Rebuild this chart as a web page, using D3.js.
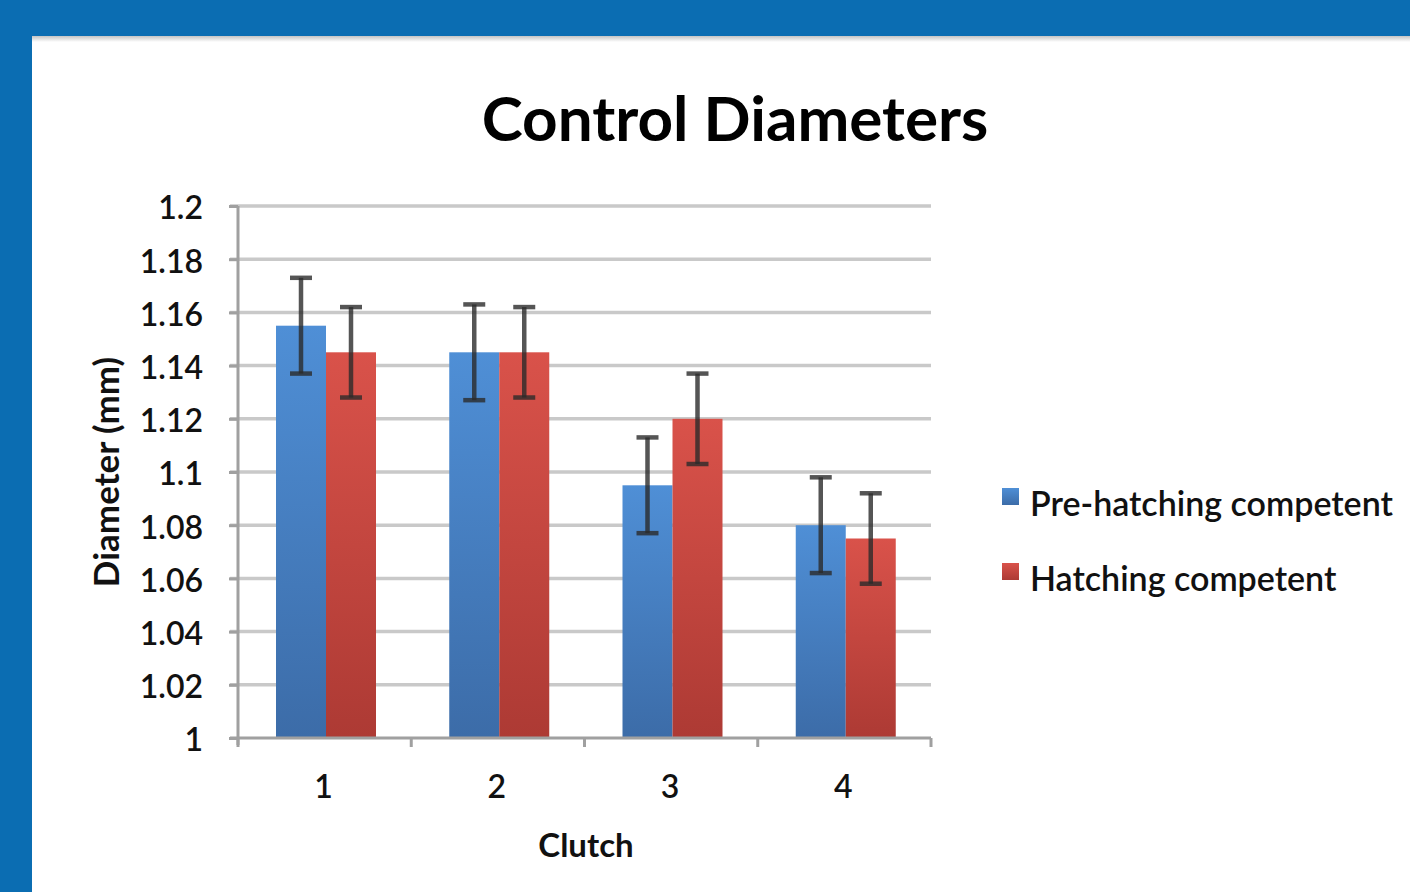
<!DOCTYPE html>
<html>
<head>
<meta charset="utf-8">
<script src="https://cdn.jsdelivr.net/npm/d3@7"></script>
<style>
  body { margin: 0; background: #0b6db2; }
  svg { display: block; }
</style>
</head>
<body>
<div id="chart"></div>
<script>
// values
var clutches = ["1", "2", "3", "4"];
var seriesNames = ["Pre-hatching competent", "Hatching competent"];
var preHatching = [1.155, 1.145, 1.095, 1.080];
var preHatchingErr = [0.018, 0.018, 0.018, 0.018];
var hatching = [1.145, 1.145, 1.120, 1.075];
var hatchingErr = [0.017, 0.017, 0.017, 0.017];
var yTicks = [1, 1.02, 1.04, 1.06, 1.08, 1.1, 1.12, 1.14, 1.16, 1.18, 1.2];

var W = 1410, H = 892;
var font = "Lato, 'Open Sans', sans-serif";

var svg = d3.select("#chart").append("svg")
  .attr("width", W).attr("height", H);

var defs = svg.append("defs");
function grad(id, top, bottom) {
  var g = defs.append("linearGradient").attr("id", id)
    .attr("x1", 0).attr("y1", 0).attr("x2", 0).attr("y2", 1);
  g.append("stop").attr("offset", "0%").attr("stop-color", top);
  g.append("stop").attr("offset", "100%").attr("stop-color", bottom);
}
grad("gBlue", "#4f8fd6", "#3c6ca8");
grad("gRed", "#d9524a", "#ad3a34");
var shadow = defs.append("linearGradient").attr("id", "gShadow")
  .attr("x1", 0).attr("y1", 0).attr("x2", 0).attr("y2", 1);
shadow.append("stop").attr("offset", "0%").attr("stop-color", "#c4c4c4");
shadow.append("stop").attr("offset", "100%").attr("stop-color", "#ffffff");

// white panel
svg.append("rect").attr("x", 32).attr("y", 36).attr("width", W - 32).attr("height", H - 36)
  .attr("fill", "#ffffff");
svg.append("rect").attr("x", 32).attr("y", 36).attr("width", W - 32).attr("height", 6)
  .attr("fill", "url(#gShadow)");

// scales
var x = d3.scaleBand().domain(clutches).range([238, 931]);
var x1 = d3.scaleBand().domain(seriesNames).range([38, 138]);
var y = d3.scaleLinear().domain([1, 1.2]).range([738, 206]);

// gridlines
svg.append("g").selectAll("line").data(yTicks.slice(1)).enter().append("line")
  .attr("x1", 230).attr("x2", 931)
  .attr("y1", function(d) { return y(d); }).attr("y2", function(d) { return y(d); })
  .attr("stroke", "#c9c9c9").attr("stroke-width", 3.5);

// y axis
var yAxis = svg.append("g").attr("transform", "translate(238,0)")
  .call(d3.axisLeft(y).tickValues(yTicks).tickSize(9).tickPadding(26)
    .tickFormat(function(d) { return d3.format("")(+d.toFixed(2)); }));
yAxis.select(".domain").attr("stroke", "#a0a0a0").attr("stroke-width", 3)
  .attr("d", "M0,206V745");
yAxis.selectAll(".tick line").attr("stroke", "#a0a0a0").attr("stroke-width", 3);
yAxis.selectAll(".tick text").attr("font-family", font).attr("font-size", 32)
  .attr("font-weight", 600).attr("fill", "#111").attr("dy", "0.4em");

// bars
var groups = svg.append("g").selectAll("g").data(clutches).enter().append("g")
  .attr("transform", function(d) { return "translate(" + x(d) + ",0)"; });

var rows = clutches.map(function(c, i) {
  return [
    { s: seriesNames[0], v: preHatching[i], e: preHatchingErr[i], fill: "url(#gBlue)" },
    { s: seriesNames[1], v: hatching[i], e: hatchingErr[i], fill: "url(#gRed)" }
  ];
});

groups.selectAll("rect").data(function(d, i) { return rows[i]; }).enter().append("rect")
  .attr("x", function(d) { return x1(d.s); })
  .attr("width", x1.bandwidth())
  .attr("y", function(d) { return y(d.v); })
  .attr("height", function(d) { return y(1) - y(d.v); })
  .attr("fill", function(d) { return d.fill; });

// error bars
var eb = groups.selectAll("g.err").data(function(d, i) { return rows[i]; }).enter()
  .append("g").attr("class", "err")
  .attr("stroke", "#2b2b2b").attr("stroke-opacity", 0.8).attr("stroke-width", 4.5);
eb.append("line")
  .attr("x1", function(d) { return x1(d.s) + x1.bandwidth() / 2; })
  .attr("x2", function(d) { return x1(d.s) + x1.bandwidth() / 2; })
  .attr("y1", function(d) { return y(d.v + d.e); })
  .attr("y2", function(d) { return y(d.v - d.e); });
[1, -1].forEach(function(sgn) {
  eb.append("line")
    .attr("x1", function(d) { return x1(d.s) + x1.bandwidth() / 2 - 11; })
    .attr("x2", function(d) { return x1(d.s) + x1.bandwidth() / 2 + 11; })
    .attr("y1", function(d) { return y(d.v + sgn * d.e); })
    .attr("y2", function(d) { return y(d.v + sgn * d.e); });
});

// x axis
svg.append("line").attr("x1", 230).attr("x2", 931).attr("y1", 738).attr("y2", 738)
  .attr("stroke", "#a0a0a0").attr("stroke-width", 3);
var bounds = clutches.map(function(c) { return x(c); }).concat([x.range()[1]]);
svg.append("g").selectAll("line").data(bounds).enter().append("line")
  .attr("x1", function(d) { return d; }).attr("x2", function(d) { return d; })
  .attr("y1", 738).attr("y2", 747)
  .attr("stroke", "#a0a0a0").attr("stroke-width", 3);
svg.append("g").selectAll("text").data(clutches).enter().append("text")
  .attr("x", function(d) { return x(d) + x.bandwidth() / 2 - 1; })
  .attr("y", 798)
  .attr("text-anchor", "middle")
  .attr("font-family", font).attr("font-size", 32).attr("font-weight", 600).attr("fill", "#111")
  .text(function(d) { return d; });

// titles
svg.append("text").attr("x", 735).attr("y", 141).attr("text-anchor", "middle")
  .attr("font-family", font).attr("font-size", 62).attr("font-weight", 700).attr("fill", "#000")
  .text("Control Diameters");
svg.append("text").attr("x", 586).attr("y", 857).attr("text-anchor", "middle")
  .attr("font-family", font).attr("font-size", 33).attr("font-weight", 700).attr("fill", "#111")
  .text("Clutch");
svg.append("text").attr("transform", "translate(119,472) rotate(-90)").attr("text-anchor", "middle")
  .attr("font-family", font).attr("font-size", 35).attr("font-weight", 700).attr("fill", "#111")
  .text("Diameter (mm)");

// legend
var legend = svg.append("g").selectAll("g").data(seriesNames).enter().append("g")
  .attr("transform", function(d, i) { return "translate(1002," + (488 + i * 75) + ")"; });
legend.append("rect").attr("width", 17).attr("height", 17)
  .attr("fill", function(d, i) { return i === 0 ? "url(#gBlue)" : "url(#gRed)"; });
legend.append("text").attr("x", 28).attr("y", 28)
  .attr("font-family", font).attr("font-size", 34).attr("font-weight", 600).attr("fill", "#111")
  .text(function(d) { return d; });
</script>
</body>
</html>
